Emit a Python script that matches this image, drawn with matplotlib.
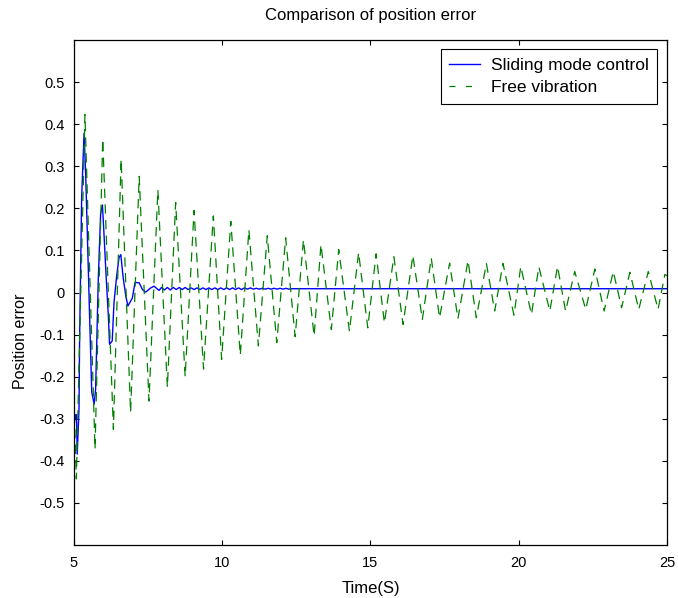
import numpy as np
import matplotlib
matplotlib.use('Agg')
import matplotlib.pyplot as plt
from matplotlib.lines import Line2D

# sliding mode control response
smc_t = [5.00, 5.01, 5.04, 5.07, 5.09, 5.11, 5.17, 5.19, 5.26, 5.34, 5.39, 5.45,
         5.53, 5.60, 5.68, 5.73, 5.82, 5.90, 5.96, 6.01, 6.09, 6.16, 6.20, 6.29,
         6.35, 6.44, 6.52, 6.58, 6.66, 6.75, 6.82, 6.97, 7.06, 7.20, 7.31, 7.42,
         7.59, 7.70, 7.87,
         7.95, 8.05, 8.15, 8.25, 8.35, 8.45, 8.55, 8.65, 8.75, 8.85, 8.95, 9.05,
         9.15, 9.25, 9.35, 9.45, 9.55, 9.65, 9.75, 9.85, 9.95, 10.05, 10.15, 10.25,
         10.35, 10.45, 10.55, 10.65, 10.75, 10.85, 10.95, 11.05, 11.15, 11.25, 11.35,
         11.45, 11.55, 11.65, 11.75, 11.85, 11.95, 12.05, 12.15, 12.25, 12.35, 25.00]
smc_v = [-0.22, -0.29, -0.30, -0.29, -0.31, -0.384, -0.277, -0.111, 0.228, 0.378, 0.291, 0.142,
         -0.064, -0.237, -0.265, -0.23, 0.031, 0.189, 0.208, 0.142, 0.031, -0.056, -0.123, -0.115,
         -0.024, 0.039, 0.083, 0.090, 0.035, -0.009, -0.032, -0.013, 0.024, 0.023, 0.007, 0.001,
         0.011, 0.015, 0.005,
         0.012, 0.006, 0.012, 0.006, 0.012, 0.007, 0.012, 0.007, 0.012, 0.007, 0.011, 0.007,
         0.011, 0.007, 0.011, 0.007, 0.011, 0.007, 0.011, 0.007, 0.011, 0.007, 0.011, 0.007,
         0.011, 0.007, 0.011, 0.007, 0.011, 0.008, 0.011, 0.008, 0.010, 0.008, 0.010,
         0.008, 0.010, 0.008, 0.010, 0.008, 0.010, 0.008, 0.010, 0.008, 0.009, 0.009]

# free vibration, extrema of the dashed curve
free_t = [5.00, 5.08, 5.37, 5.71, 5.97, 6.33, 6.59, 6.91, 7.20, 7.53, 7.83, 8.15,
          8.43, 8.75, 9.05, 9.37, 9.70, 9.98, 10.29, 10.61, 10.90, 11.22, 11.52, 11.84,
          12.14, 12.46, 12.74, 13.10, 13.33, 13.68, 13.93, 14.29, 14.60, 14.91, 15.19, 15.47,
          15.79, 16.10, 16.43, 16.75, 17.05, 17.33, 17.67, 17.95, 18.29, 18.57, 18.91, 19.19,
          19.47, 19.84, 20.07, 20.43, 20.68, 21.05, 21.31, 21.58, 21.89, 22.26, 22.57, 22.88,
          23.19, 23.47, 23.75, 24.05, 24.37, 24.70, 24.93, 25.00]
free_v = [-0.25, -0.443, 0.423, -0.372, 0.365, -0.325, 0.317, -0.285, 0.276, -0.258, 0.244, -0.225,
          0.214, -0.200, 0.195, -0.182, 0.182, -0.159, 0.169, -0.149, 0.149, -0.127, 0.135, -0.119,
          0.130, -0.105, 0.125, -0.103, 0.114, -0.088, 0.102, -0.092, 0.095, -0.084, 0.092, -0.072,
          0.085, -0.076, 0.088, -0.064, 0.082, -0.060, 0.070, -0.062, 0.076, -0.060, 0.069, -0.044,
          0.069, -0.054, 0.062, -0.052, 0.061, -0.044, 0.062, -0.044, 0.050, -0.040, 0.056, -0.044,
          0.050, -0.036, 0.048, -0.040, 0.050, -0.040, 0.043, 0.040]

x_ticks = [5, 10, 15, 20, 25]
y_ticks = [-0.5, -0.4, -0.3, -0.2, -0.1, 0, 0.1, 0.2, 0.3, 0.4, 0.5]
y_labels = ['-0.5', '-0.4', '-0.3', '-0.2', '-0.1', '0', '0.1', '0.2', '0.3', '0.4', '0.5']

plt.rcParams['font.family'] = ['Liberation Sans', 'DejaVu Sans']
plt.rcParams['axes.unicode_minus'] = False

fig = plt.figure(figsize=(6.78, 5.98), dpi=100)
ax = fig.add_axes([0.1091, 0.0886, 0.8746, 0.8445])

blue, = ax.plot(smc_t, smc_v, color='#0000ff', lw=1.0)
ax.plot(free_t, free_v, color='#008000', lw=0.9, dashes=(7.5, 5.0))

ax.set_xlim(5, 25)
ax.set_ylim(-0.6, 0.6)
ax.set_xticks(x_ticks)
ax.set_xticklabels([str(v) for v in x_ticks])
ax.set_yticks(y_ticks)
ax.set_yticklabels(y_labels)
ax.tick_params(direction='in', length=3.6, width=0.8, top=True, right=True, labelsize=10.5)
ax.tick_params(axis='x', pad=7.6)
ax.tick_params(axis='y', pad=6.5)
for s in ax.spines.values():
    s.set_linewidth(0.9)

ax.set_title('Comparison of position error', fontsize=12, pad=14.5)
ax.set_xlabel('Time(S)', fontsize=12, labelpad=8)
ax.set_ylabel('Position error', fontsize=11.5)
ax.yaxis.set_label_coords(-0.078, 0.404)

# legend handle: two short dashes like the original
free_handle = Line2D([], [], color='#008000', lw=0.9, dashes=(4.8, 8.4))
leg = ax.legend([blue, free_handle], ['Sliding mode control', 'Free vibration'],
                loc='upper right', bbox_to_anchor=(0.984, 0.9816), borderaxespad=0,
                fontsize=12.5, fancybox=False, framealpha=1, edgecolor='black',
                handlelength=1.75, handletextpad=0.65, borderpad=0.5, labelspacing=0.4)
leg.get_frame().set_linewidth(0.8)

fig.savefig('out.png', dpi=100)
